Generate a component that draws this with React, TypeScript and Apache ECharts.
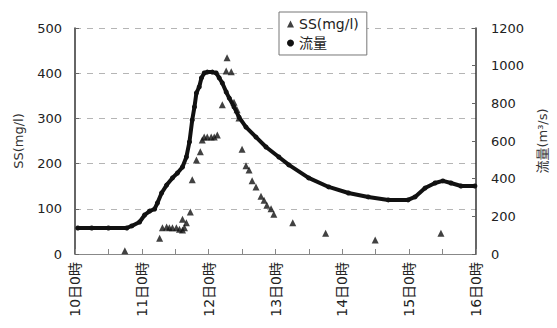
import React, { useEffect, useRef } from "react";
import * as echarts from "echarts";

// x = hours since 10日0時
const xTickLabels = ["10日0時", "11日0時", "12日0時", "13日0時", "14日0時", "15日0時", "16日0時"];
const leftTicks = [0, 100, 200, 300, 400, 500];
const rightTicks = [0, 200, 400, 600, 800, 1000, 1200];

const ssHours = [17.9, 30.4, 31.4, 32.9, 33.9, 35.0, 36.4, 37.5, 38.6, 39.3, 38.6, 40.0, 41.4, 42.1, 43.6, 45.0, 45.7, 46.4, 47.5, 48.9, 50.0, 51.1, 52.9, 54.3, 54.6, 56.1, 57.1, 58.2, 58.9, 60.0, 61.4, 62.5, 63.6, 65.0, 66.8, 67.9, 68.9, 70.4, 71.4, 78.2, 90.0, 107.8, 131.4];
const ssValues = [7, 35, 58, 60, 58, 58, 58, 55, 53, 58, 77, 69, 93, 164, 208, 226, 252, 259, 259, 259, 259, 263, 330, 405, 434, 403, 336, 319, 301, 232, 195, 186, 162, 148, 128, 119, 108, 100, 88, 69, 46, 31, 46];

const flowHours = [1, 6, 12, 18.6, 20.4, 23.2, 25, 26.8, 28.6, 29.6, 31.1, 32.9, 35, 36.8, 38.6, 40, 41.1, 42.1, 42.9, 43.6, 44.6, 45.4, 46.4, 47.5, 49.3, 50.7, 51.8, 52.9, 54.3, 55.4, 57.1, 58.9, 61.4, 65, 68.6, 73.2, 76.8, 83.9, 91.1, 98.2, 105.3, 112.5, 119.6, 122.1, 125.7, 129.3, 132.1, 135, 138.6, 143.6];
const flowValues = [138, 138, 138, 138, 149, 170, 207, 228, 239, 271, 324, 366, 404, 430, 462, 515, 595, 712, 781, 855, 887, 935, 961, 966, 966, 961, 935, 908, 860, 828, 781, 727, 674, 621, 568, 515, 473, 404, 356, 324, 303, 287, 287, 303, 350, 377, 388, 377, 361, 361];

const FONT = "DejaVu Sans, Noto Sans CJK JP, sans-serif";

export default function App() {
  const ref = useRef<HTMLDivElement>(null);
  useEffect(() => {
    if (!ref.current) return;
    const chart = echarts.init(ref.current, undefined, { renderer: "svg" });
    chart.setOption({
      animation: false,
      backgroundColor: "#fff",
      grid: { left: 75, right: 79, top: 28, bottom: 74 },
      legend: {
        left: 279,
        top: 12,
        orient: "vertical",
        backgroundColor: "#fff",
        borderColor: "#777",
        borderWidth: 1,
        borderRadius: 0,
        padding: [5, 8, 5, 8],
        itemGap: 5,
        itemWidth: 7,
        itemHeight: 7,
        textStyle: { fontFamily: FONT, fontSize: 14, color: "#222" },
        data: [
          { name: "SS(mg/l)", icon: "triangle" },
          { name: "流量", icon: "circle", itemStyle: { color: "#111" } },
        ],
      },
      xAxis: {
        type: "value",
        min: 0,
        max: 144,
        interval: 12,
        axisLine: { lineStyle: { color: "#888", width: 1 } },
        axisTick: { inside: true, length: 5, lineStyle: { color: "#888" } },
        splitLine: { show: false },
        axisLabel: {
          rotate: 90,
          margin: 8,
          fontFamily: FONT,
          fontSize: 14,
          color: "#222",
          formatter: (v: number) => (v % 24 === 0 ? xTickLabels[v / 24] : ""),
        },
      },
      yAxis: [
        {
          type: "value",
          min: leftTicks[0],
          max: leftTicks[leftTicks.length - 1],
          interval: 100,
          name: "SS(mg/l)",
          nameLocation: "middle",
          nameRotate: 90,
          nameGap: 50,
          nameTextStyle: { fontFamily: FONT, fontSize: 13, color: "#333" },
          axisLine: { show: true, lineStyle: { color: "#333", width: 1.5 } },
          axisTick: { show: true, inside: true, length: 4, lineStyle: { color: "#666" } },
          axisLabel: { margin: 13, fontFamily: FONT, fontSize: 13, color: "#222" },
          splitLine: {
            show: true,
            lineStyle: { color: "#b5b5b5", type: [6, 6], width: 1 },
          },
        },
        {
          type: "value",
          min: rightTicks[0],
          max: rightTicks[rightTicks.length - 1],
          interval: 200,
          position: "right",
          name: "流量(m³/s)",
          nameLocation: "middle",
          nameRotate: 90,
          nameGap: 60,
          nameTextStyle: { fontFamily: FONT, fontSize: 13, color: "#333" },
          axisLine: { show: true, lineStyle: { color: "#333", width: 1.5 } },
          axisTick: { show: true, inside: true, length: 4, lineStyle: { color: "#666" } },
          axisLabel: {
            margin: 15,
            fontFamily: FONT,
            fontSize: 13,
            color: "#222",
            formatter: (v: number) => String(v),
          },
          splitLine: { show: false },
        },
      ],
      series: [
        {
          name: "SS(mg/l)",
          type: "scatter",
          yAxisIndex: 0,
          symbol: "triangle",
          symbolSize: 7,
          itemStyle: { color: "#111" },
          data: ssHours.map((h, i) => [h, ssValues[i]]),
          z: 3,
        },
        {
          name: "流量",
          type: "line",
          yAxisIndex: 1,
          symbol: "circle",
          symbolSize: 5,
          showSymbol: true,
          itemStyle: { color: "#111" },
          lineStyle: { color: "#111", width: 4 },
          data: flowHours.map((h, i) => [h, flowValues[i]]),
          z: 2,
        },
      ],
    });
    return () => chart.dispose();
  }, []);
  return (
    <div
      ref={ref}
      style={{ position: "fixed", left: 0, top: 0, width: 557, height: 328 }}
    />
  );
}
